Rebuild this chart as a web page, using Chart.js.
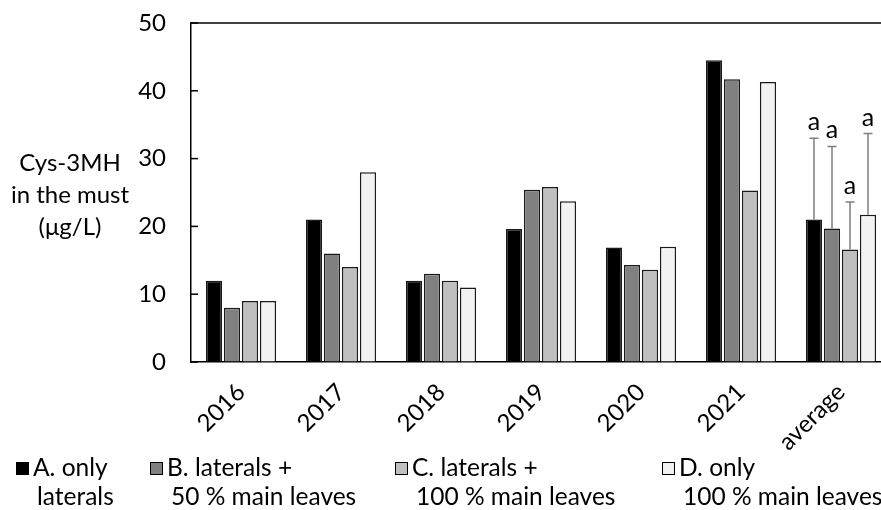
<!DOCTYPE html>
<html>
<head>
<meta charset="utf-8">
<script src="https://cdn.jsdelivr.net/npm/chart.js@4/dist/chart.umd.min.js"></script>
<style>
  html, body { margin: 0; padding: 0; background: #fff; }
  body { width: 881px; height: 510px; overflow: hidden; position: relative; font-family: Lato, "Open Sans", sans-serif; }
  #wrap { position: absolute; left: 0; top: 0; width: 891px; height: 510px; }
  #ytitle { position: absolute; left: 0; width: 140px; top: 146px; text-align: center; font-size: 24px; line-height: 32px; color: #000; }
  #legend { position: absolute; left: 0; top: 452px; width: 881px; height: 58px; font-size: 24.5px; color: #000; }
  .item { position: absolute; top: 0; line-height: 29px; white-space: nowrap; }
  .sw { position: absolute; left: 0; top: 10px; width: 11px; height: 11px; border: 1px solid #000; }
  .l1 { position: absolute; left: 17px; top: 0; }
  .l2 { position: absolute; left: 21px; top: 29px; }
</style>
</head>
<body>
<div id="wrap"><canvas id="c" width="891" height="510"></canvas></div>
<div id="ytitle">Cys-3MH<br>in the must<br>(μg/L)</div>
<div id="legend"></div>
<script>
// Cys-3MH concentration in the must per year and treatment
const categories = ['2016', '2017', '2018', '2019', '2020', '2021', 'average'];
const seriesNames = [
  ['A. only', 'laterals'],
  ['B. laterals +', '50 % main leaves'],
  ['C. laterals +', '100 % main leaves'],
  ['D. only', '100 % main leaves']
];
const onlyLaterals       = [12.0, 21.0, 12.0, 19.6, 16.9, 44.5, 21.0];
const laterals50Main     = [8.0, 16.0, 13.0, 25.4, 14.3, 41.7, 19.7];
const laterals100Main    = [9.0, 14.0, 12.0, 25.8, 13.6, 25.3, 16.6];
const only100Main        = [9.0, 28.0, 11.0, 23.7, 17.0, 41.3, 21.7];
// standard deviation of the averages and significance letters
const averageErrors = [12.0, 12.1, 7.0, 12.0];
const sigLetters = ['a', 'a', 'a', 'a'];
const yTicks = [0, 10, 20, 30, 40, 50];

const fills = ['#000000', '#808080', '#bfbfbf', '#f2f2f2'];
const seriesValues = [onlyLaterals, laterals50Main, laterals100Main, only100Main];
const FONT = 'Lato, "Open Sans", sans-serif';

// legend
const legend = document.getElementById('legend');
const legendX = [16, 150, 395, 662];
seriesNames.forEach((lines, i) => {
  const it = document.createElement('div');
  it.className = 'item';
  it.style.left = legendX[i] + 'px';
  it.innerHTML = '<div class="sw" style="background:' + fills[i] + '"></div>' +
    '<div class="l1">' + lines[0] + '</div><div class="l2">' + lines[1] + '</div>';
  legend.appendChild(it);
});

const frameAndErrors = {
  id: 'frameAndErrors',
  afterDraw(chart) {
    const ctx = chart.ctx;
    const area = chart.chartArea;
    const y = chart.scales.y;
    ctx.save();
    // top frame line
    ctx.strokeStyle = '#000';
    ctx.lineWidth = 1.5;
    ctx.beginPath();
    ctx.moveTo(area.left, area.top);
    ctx.lineTo(area.right, area.top);
    ctx.stroke();
    // inward tick marks
    yTicks.forEach(v => {
      const py = y.getPixelForValue(v);
      ctx.beginPath();
      ctx.moveTo(area.left, py);
      ctx.lineTo(area.left + 7, py);
      ctx.stroke();
    });
    // error bars on the averages
    const idx = categories.length - 1;
    ctx.font = '25px ' + FONT;
    ctx.textAlign = 'center';
    ctx.textBaseline = 'alphabetic';
    seriesValues.forEach((vals, d) => {
      const bar = chart.getDatasetMeta(d).data[idx];
      const top = y.getPixelForValue(vals[idx] + averageErrors[d]);
      ctx.strokeStyle = '#7f7f7f';
      ctx.lineWidth = 1.5;
      ctx.beginPath();
      ctx.moveTo(bar.x, bar.y);
      ctx.lineTo(bar.x, top);
      ctx.moveTo(bar.x - 4.5, top);
      ctx.lineTo(bar.x + 4.5, top);
      ctx.stroke();
      ctx.fillStyle = '#000';
      ctx.fillText(sigLetters[d], bar.x, top - 8);
    });
    ctx.restore();
  }
};

new Chart(document.getElementById('c'), {
  type: 'bar',
  data: {
    labels: categories,
    datasets: seriesValues.map((vals, i) => ({
      label: seriesNames[i].join(' '),
      data: vals,
      backgroundColor: fills[i],
      borderColor: '#1a1a1a',
      borderWidth: 1.5,
      categoryPercentage: 0.72,
      barPercentage: 0.9
    }))
  },
  options: {
    responsive: false,
    animation: false,
    devicePixelRatio: 1,
    layout: { padding: { top: 23, left: 0, right: 0, bottom: 0 } },
    plugins: { legend: { display: false }, tooltip: { enabled: false } },
    scales: {
      x: {
        grid: { display: false },
        border: { color: '#000', width: 1.5 },
        ticks: {
          color: '#000',
          font: { family: FONT, size: 24 },
          minRotation: 45,
          maxRotation: 45,
          padding: 8
        },
        afterFit(scale) {
          scale.height = 148;
          scale.paddingLeft = 0;
          scale.paddingRight = 0;
        }
      },
      y: {
        min: 0,
        max: 50,
        afterBuildTicks(scale) { scale.ticks = yTicks.map(v => ({ value: v })); },
        grid: { display: true, drawOnChartArea: false, drawTicks: false },
        border: { color: '#000', width: 1.5 },
        ticks: {
          color: '#000',
          font: { family: FONT, size: 24 },
          padding: 25
        },
        afterFit(scale) {
          scale.width = 191;
          scale.paddingTop = 0;
          scale.paddingBottom = 0;
        }
      }
    }
  },
  plugins: [frameAndErrors]
});
</script>
</body>
</html>
